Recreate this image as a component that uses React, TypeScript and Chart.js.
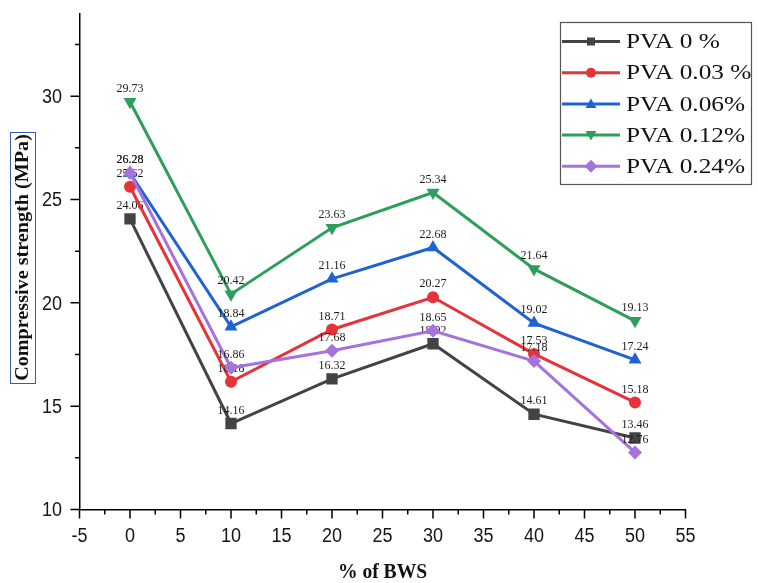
import React, { useEffect, useRef } from 'react';
import { Chart, registerables } from 'chart.js';

Chart.register(...registerables);

const bwsPercent = [0, 10, 20, 30, 40, 50];
const pva0 = [24.06, 14.16, 16.32, 18.02, 14.61, 13.46];
const pva003 = [25.62, 16.18, 18.71, 20.27, 17.53, 15.18];
const pva006 = [26.28, 18.84, 21.16, 22.68, 19.02, 17.24];
const pva012 = [29.73, 20.42, 23.63, 25.34, 21.64, 19.13];
const pva024 = [26.28, 16.86, 17.68, 18.65, 17.18, 12.76];
const seriesNames = ['PVA 0 %', 'PVA 0.03 %', 'PVA 0.06%', 'PVA 0.12%', 'PVA 0.24%'];
const seriesColors = ['#434343', '#e5333a', '#1f63d2', '#2f9e5b', '#a672de'];
const yTickValues = [10, 15, 20, 25, 30];
const yMinorValues = [12.5, 17.5, 22.5, 27.5, 32.5];
const xMinorValues = [-2.5, 2.5, 7.5, 12.5, 17.5, 22.5, 27.5, 32.5, 37.5, 42.5, 47.5, 52.5];
const yTitle = 'Compressive strength (MPa)';
const xTitle = '% of BWS';

const allSeries = [pva0, pva003, pva006, pva012, pva024];
const pointStyles = ['rect', 'circle', 'triangle', 'triangle', 'rectRot'];
const pointRotations = [0, 0, 0, 180, 0];
const pointRadii = [8, 6, 7.5, 7.5, 7];

const SANS = '"Liberation Sans", Arial, sans-serif';
const SERIF = '"Liberation Serif", "Times New Roman", serif';

function drawMarker(ctx: CanvasRenderingContext2D, kind: number, x: number, y: number, s: number) {
  ctx.beginPath();
  if (kind === 0) {
    ctx.rect(x - s, y - s, 2 * s, 2 * s);
  } else if (kind === 1) {
    ctx.arc(x, y, s, 0, Math.PI * 2);
  } else if (kind === 2) {
    ctx.moveTo(x, y - s * 1.1);
    ctx.lineTo(x + s * 1.1, y + s * 0.8);
    ctx.lineTo(x - s * 1.1, y + s * 0.8);
    ctx.closePath();
  } else if (kind === 3) {
    ctx.moveTo(x, y + s * 1.1);
    ctx.lineTo(x + s * 1.1, y - s * 0.8);
    ctx.lineTo(x - s * 1.1, y - s * 0.8);
    ctx.closePath();
  } else {
    ctx.moveTo(x, y - s * 1.3);
    ctx.lineTo(x + s * 1.3, y);
    ctx.lineTo(x, y + s * 1.3);
    ctx.lineTo(x - s * 1.3, y);
    ctx.closePath();
  }
  ctx.fill();
}

function stretchedText(ctx: CanvasRenderingContext2D, text: string, x: number, y: number, sx: number, sy: number) {
  ctx.save();
  ctx.translate(x, y);
  ctx.scale(sx, sy);
  ctx.fillText(text, 0, 0);
  ctx.restore();
}

const decorPlugin = {
  id: 'decor',
  afterDatasetDraw(chart: any, args: any) {
    const ctx = chart.ctx as CanvasRenderingContext2D;
    const meta = args.meta;
    const data = allSeries[args.index];
    ctx.save();
    ctx.font = '12px ' + SERIF;
    ctx.fillStyle = '#1c1c1c';
    ctx.textAlign = 'center';
    ctx.textBaseline = 'middle';
    meta.data.forEach((el: any, i: number) => {
      ctx.fillText(data[i].toFixed(2), el.x, el.y - 13);
    });
    ctx.restore();
  },
  afterDraw(chart: any) {
    const ctx = chart.ctx as CanvasRenderingContext2D;
    const xs = chart.scales.x;
    const ys = chart.scales.y;
    const area = chart.chartArea;
    ctx.save();
    // ticks
    ctx.strokeStyle = '#000';
    ctx.lineWidth = 1.5;
    ctx.beginPath();
    xs.ticks.forEach((t: any) => {
      const px = xs.getPixelForValue(t.value);
      ctx.moveTo(px, area.bottom);
      ctx.lineTo(px, area.bottom + 9);
    });
    xMinorValues.forEach((v) => {
      const px = xs.getPixelForValue(v);
      ctx.moveTo(px, area.bottom);
      ctx.lineTo(px, area.bottom + 5);
    });
    ys.ticks.forEach((t: any) => {
      const py = ys.getPixelForValue(t.value);
      ctx.moveTo(area.left, py);
      ctx.lineTo(area.left - 9, py);
    });
    yMinorValues.forEach((v) => {
      const py = ys.getPixelForValue(v);
      ctx.moveTo(area.left, py);
      ctx.lineTo(area.left - 4.5, py);
    });
    ctx.stroke();

    // tick labels
    ctx.fillStyle = '#161616';
    ctx.font = '18px ' + SANS;
    ctx.textBaseline = 'middle';
    ctx.textAlign = 'center';
    xs.ticks.forEach((t: any) => {
      const px = xs.getPixelForValue(t.value);
      stretchedText(ctx, String(t.value), px, 536, 1, 1.17);
    });
    ctx.textAlign = 'right';
    ys.ticks.forEach((t: any) => {
      const py = ys.getPixelForValue(t.value);
      stretchedText(ctx, String(t.value), 62, py + 1, 1, 1.17);
    });

    // x title
    ctx.fillStyle = '#111';
    ctx.font = 'bold 19px ' + SERIF;
    ctx.textAlign = 'center';
    ctx.textBaseline = 'middle';
    stretchedText(ctx, xTitle, (area.left + area.right) / 2, 573, 1.03, 1.1);

    // y title with box
    ctx.save();
    ctx.translate(22.5, 257.5);
    ctx.rotate(-Math.PI / 2);
    ctx.scale(1.12, 1);
    ctx.font = 'bold 18px ' + SERIF;
    ctx.fillText(yTitle, 0, 1);
    ctx.restore();
    ctx.strokeStyle = '#3a5cb0';
    ctx.lineWidth = 1;
    ctx.strokeRect(10.5, 132.5, 25, 251);

    // legend
    ctx.fillStyle = '#fff';
    ctx.fillRect(560.5, 22.5, 191, 162);
    ctx.strokeStyle = '#555';
    ctx.lineWidth = 1.2;
    ctx.strokeRect(560.5, 22.5, 191, 162);
    ctx.textAlign = 'left';
    ctx.textBaseline = 'middle';
    seriesNames.forEach((name, i) => {
      const ry = 41.5 + i * 31.2;
      ctx.strokeStyle = seriesColors[i];
      ctx.lineWidth = 3;
      ctx.beginPath();
      ctx.moveTo(562, ry);
      ctx.lineTo(620, ry);
      ctx.stroke();
      ctx.fillStyle = seriesColors[i];
      drawMarker(ctx, i, 591, ry, i === 0 ? 4 : 5);
      ctx.fillStyle = '#111';
      ctx.font = '22px ' + SERIF;
      ctx.save();
      ctx.beginPath();
      ctx.rect(560, 22, 191, 162);
      ctx.clip();
      stretchedText(ctx, name, 626, ry + 1, 1.15, 1);
      ctx.restore();
    });
    ctx.restore();
  },
};

export default function App() {
  const canvasRef = useRef<HTMLCanvasElement | null>(null);

  useEffect(() => {
    document.body.style.margin = '0';
    const canvas = canvasRef.current;
    if (!canvas) return;
    const datasets = allSeries.map((values, i) => ({
      label: seriesNames[i],
      data: values.map((v, j) => ({ x: bwsPercent[j], y: v })),
      borderColor: seriesColors[i],
      backgroundColor: seriesColors[i],
      borderWidth: 3,
      pointStyle: pointStyles[i],
      pointRotation: pointRotations[i],
      pointRadius: pointRadii[i],
      pointBorderWidth: 0,
      pointBackgroundColor: seriesColors[i],
      showLine: true,
      tension: 0,
      order: 4 - i,
    }));
    const chart = new Chart(canvas, {
      type: 'scatter',
      data: { datasets },
      options: {
        animation: false,
        responsive: false,
        devicePixelRatio: 1,
        layout: { padding: { left: 0, right: 72.5, top: 13.5, bottom: 0 } },
        plugins: { legend: { display: false }, tooltip: { enabled: false } },
        scales: {
          x: {
            type: 'linear',
            min: -5,
            max: 55,
            ticks: { stepSize: 5, display: false },
            grid: { display: false },
            border: { display: true, color: '#000', width: 1.5 },
            afterFit: (s: any) => { s.height = 73.5; },
          },
          y: {
            type: 'linear',
            min: 10,
            max: 34,
            afterBuildTicks: (s: any) => { s.ticks = yTickValues.map((v) => ({ value: v })); },
            ticks: { display: false },
            grid: { display: false },
            border: { display: true, color: '#000', width: 1.5 },
            afterFit: (s: any) => { s.width = 79.5; },
          },
        },
      },
      plugins: [decorPlugin],
    });
    return () => chart.destroy();
  }, []);

  return (
    <div style={{ width: 758, height: 583, background: '#fff' }}>
      <canvas ref={canvasRef} width={758} height={583} />
    </div>
  );
}
